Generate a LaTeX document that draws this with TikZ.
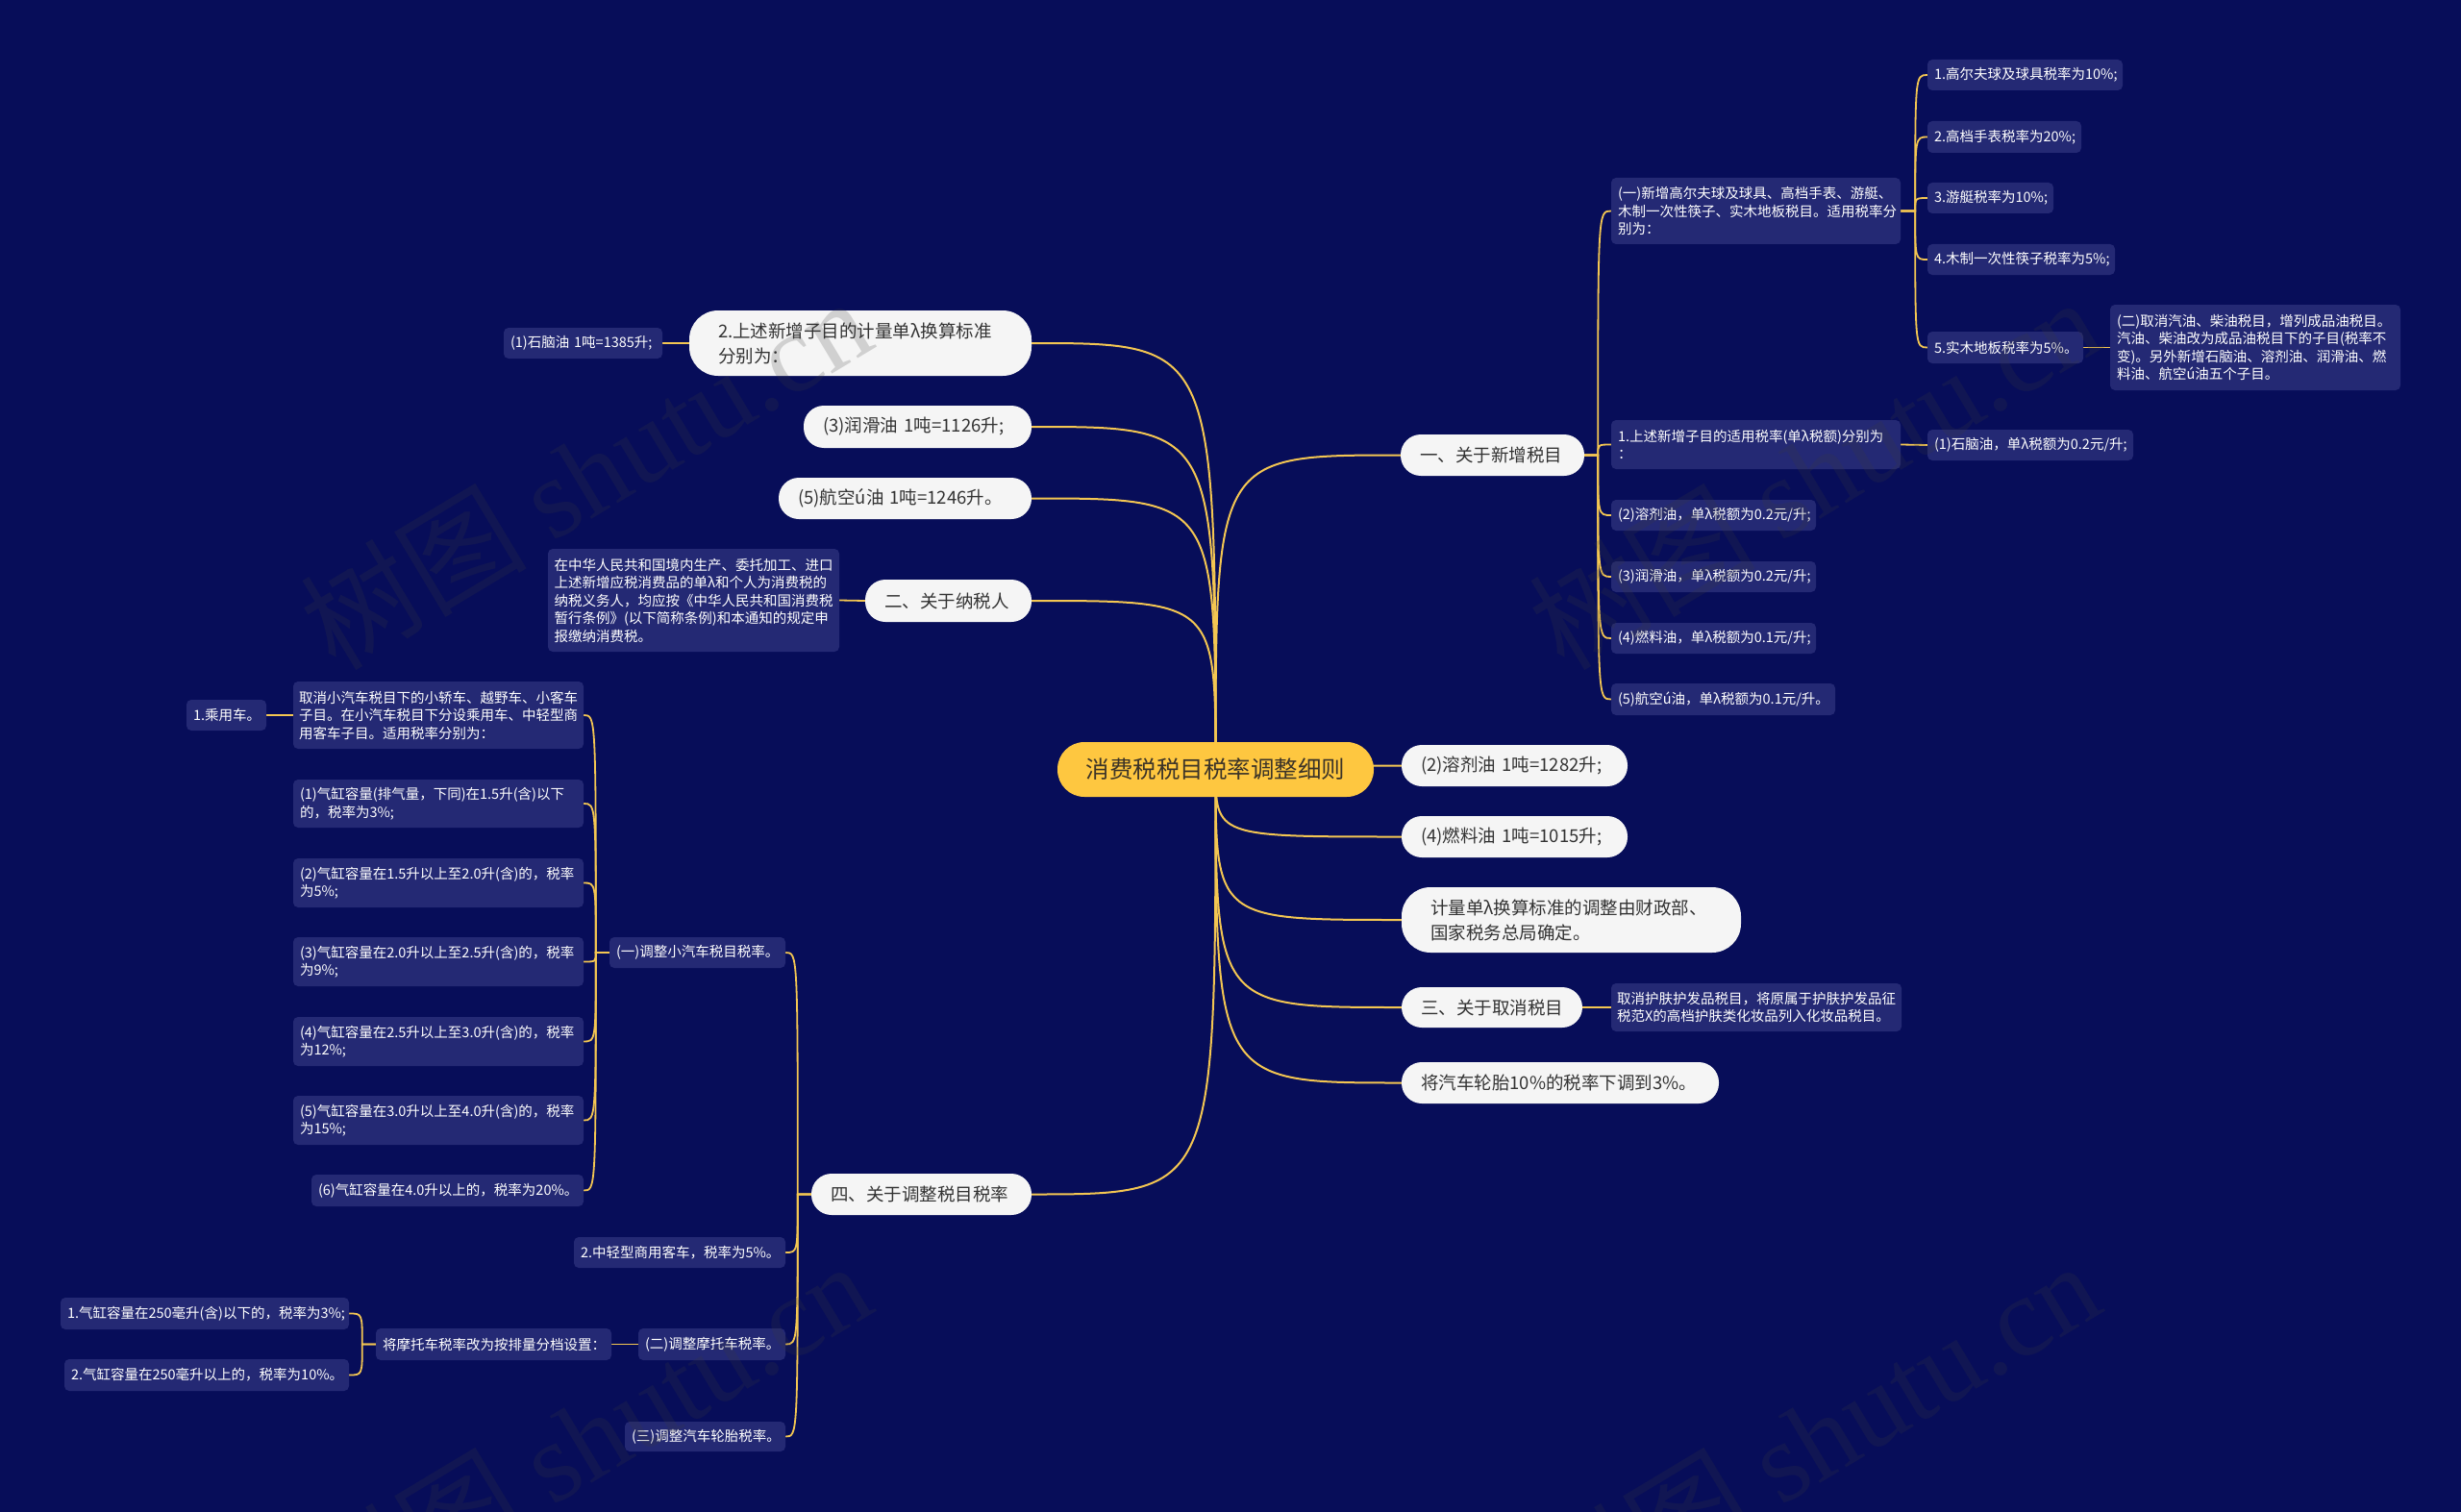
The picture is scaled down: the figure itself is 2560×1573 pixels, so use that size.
\documentclass[tikz,border=0pt]{standalone}
\usepackage{fontspec}
\setmainfont{Noto Sans CJK SC}
\newfontfamily\wmlatin{Liberation Serif}
\definecolor{bgc}{RGB}{7,13,89}
\definecolor{boxc}{RGB}{36,41,116}
\definecolor{pillc}{RGB}{245,245,245}
\definecolor{pilltxt}{RGB}{51,51,51}
\definecolor{rootc}{RGB}{254,199,64}
\definecolor{roottxt}{RGB}{60,52,40}
\definecolor{linec}{RGB}{243,198,82}
\definecolor{wmc}{RGB}{60,60,60}
\pgfdeclarelayer{back}
\pgfdeclarelayer{bg}
\pgfsetlayers{back,bg,main}
\begin{document}
\begin{tikzpicture}[x=1pt,y=-1pt,
  pill/.style={fill=pillc, text=pilltxt, rounded corners=21pt, font=\fontsize{18.5}{26}\selectfont, inner xsep=20pt, inner ysep=2pt, align=left},
  pilltwo/.style={pill, rounded corners=30pt, inner xsep=30pt},
  sb/.style={fill=boxc, text=white, rounded corners=5pt, font=\fontsize{14.5}{18.5}\selectfont, inner xsep=7pt, inner ysep=2pt, align=left},
  rootnode/.style={fill=rootc, text=roottxt, rounded corners=28pt, font=\fontsize{24.5}{30}\selectfont, inner sep=2pt, align=center},
  link/.style={draw=linec, line width=2pt},
  sublink/.style={draw=linec, line width=1.8pt},
  wm/.style={text=wmc, text opacity=0.2, inner sep=0pt, font=\fontsize{118}{118}\selectfont}
]
\useasboundingbox (0,0) rectangle (2560,1573);
\begin{pgfonlayer}{back}
\fill[bgc] (0,0) rectangle (2560,1573);
\end{pgfonlayer}

% root
\node[rootnode, minimum width=329pt, minimum height=57pt] (c) at (1264.5,800.5) {消费税税目税率调整细则};

% right level 1
\node[pill, text width=151pt, minimum height=43pt] (r1) at (1552.5,473.5) {一、关于新增税目};
\node[pill, text width=195pt, minimum height=43pt] (r2) at (1575.5,796.5) {(2)溶剂油~1吨=1282升;};
\node[pill, text width=195pt, minimum height=43pt] (r3) at (1575.5,870.5) {(4)燃料油~1吨=1015升;};
\node[pilltwo, text width=293pt, minimum height=68pt] (r4) at (1634.5,957) {计量单λ换算标准的调整由财政部、\\国家税务总局确定。};
\node[pill, text width=148pt, minimum height=42pt] (r5) at (1552,1048) {三、关于取消税目};
\node[pill, text width=290pt, minimum height=43pt] (r6) at (1623,1126.5) {将汽车轮胎10\%的税率下调到3\%。};

% left level 1
\node[pilltwo, text width=296pt, minimum height=68pt] (l1) at (895,357) {2.上述新增子目的计量单λ换算标准\\分别为：};
\node[pill, text width=197pt, minimum height=44pt] (l2) at (954.5,444) {(3)润滑油~1吨=1126升;};
\node[pill, text width=223pt, minimum height=43pt] (l3) at (941.5,518.5) {(5)航空ú油~1吨=1246升。};
\node[pill, text width=133pt, minimum height=44pt] (l4) at (986.5,625) {二、关于纳税人};
\node[pill, text width=189pt, minimum height=43pt] (l5) at (958.5,1242.5) {四、关于调整税目税率};

% right level 2 (under 一)
\node[sb, text width=287pt, minimum height=69pt] (a) at (1826.5,219.5) {(一)新增高尔夫球及球具、高档手表、游艇、\\木制一次性筷子、实木地板税目。适用税率分\\别为：};
\node[sb, text width=287pt, minimum height=51pt] (b) at (1826.5,462.5) {1.上述新增子目的适用税率(单λ税额)分别为\\：};
\node[sb, text width=199pt, minimum height=32pt] (c2) at (1782.5,536) {(2)溶剂油，单λ税额为0.2元/升;};
\node[sb, text width=199pt, minimum height=32pt] (c3) at (1782.5,600) {(3)润滑油，单λ税额为0.2元/升;};
\node[sb, text width=199pt, minimum height=32pt] (c4) at (1782.5,664) {(4)燃料油，单λ税额为0.1元/升;};
\node[sb, text width=219pt, minimum height=33pt] (c5) at (1792.5,727.5) {(5)航空ú油，单λ税额为0.1元/升。};

% level 3
\node[sb, text width=189pt, minimum height=32pt] (a1) at (2106.5,78) {1.高尔夫球及球具税率为10\%;};
\node[sb, text width=146pt, minimum height=33pt] (a2) at (2085,142.5) {2.高档手表税率为20\%;};
\node[sb, text width=117pt, minimum height=32pt] (a3) at (2070.5,206) {3.游艇税率为10\%;};
\node[sb, text width=181pt, minimum height=32pt] (a4) at (2102.5,270) {4.木制一次性筷子税率为5\%;};
\node[sb, text width=148pt, minimum height=33pt] (a5) at (2086,361.5) {5.实木地板税率为5\%。};
\node[sb, text width=288pt, minimum height=89pt] (a51) at (2346,361.5) {(二)取消汽油、柴油税目，增列成品油税目。\\汽油、柴油改为成品油税目下的子目(税率不\\变)。另外新增石脑油、溶剂油、润滑油、燃\\料油、航空ú油五个子目。};
\node[sb, text width=200pt, minimum height=32pt] (b1) at (2112,463) {(1)石脑油，单λ税额为0.2元/升;};
\node[sb, inner xsep=6pt, text width=290pt, minimum height=50pt] (r5d) at (1827,1048) {取消护肤护发品税目，将原属于护肤护发品征\\税范X的高档护肤类化妆品列入化妆品税目。};

% left level 2
\node[sb, text width=151pt, minimum height=32pt] (l1d) at (606.5,357) {(1)石脑油~1吨=1385升;};
\node[sb, inner xsep=6.5pt, text width=290pt, minimum height=107pt] (l4d) at (721.5,624.5) {在中华人民共和国境内生产、委托加工、进口\\上述新增应税消费品的单λ和个人为消费税的\\纳税义务人，均应按《中华人民共和国消费税\\暂行条例》(以下简称条例)和本通知的规定申\\报缴纳消费税。};
\node[sb, text width=169pt, minimum height=32pt] (f1) at (725.5,991) {(一)调整小汽车税目税率。};
\node[sb, text width=206pt, minimum height=32pt] (f2) at (707,1303) {2.中轻型商用客车，税率为5\%。};
\node[sb, text width=139pt, minimum height=33pt] (f3) at (740.5,1398.5) {(二)调整摩托车税率。};
\node[sb, text width=153pt, minimum height=31pt] (f4) at (733.5,1494.5) {(三)调整汽车轮胎税率。};

\node[sb, inner xsep=6pt, text width=290pt, minimum height=70pt] (g0) at (456,744) {取消小汽车税目下的小轿车、越野车、小客车\\子目。在小汽车税目下分设乘用车、中轻型商\\用客车子目。适用税率分别为：};
\node[sb, text width=288pt, minimum height=50pt] (g1) at (456,836) {(1)气缸容量(排气量，下同)在1.5升(含)以下\\的，税率为3\%;};
\node[sb, text width=288pt, minimum height=51pt] (g2) at (456,918.5) {(2)气缸容量在1.5升以上至2.0升(含)的，税率\\为5\%;};
\node[sb, text width=288pt, minimum height=51pt] (g3) at (456,1000.5) {(3)气缸容量在2.0升以上至2.5升(含)的，税率\\为9\%;};
\node[sb, text width=288pt, minimum height=51pt] (g4) at (456,1083.5) {(4)气缸容量在2.5升以上至3.0升(含)的，税率\\为12\%;};
\node[sb, text width=288pt, minimum height=51pt] (g5) at (456,1165.5) {(5)气缸容量在3.0升以上至4.0升(含)的，税率\\为15\%;};
\node[sb, text width=269pt, minimum height=33pt] (g6) at (465.5,1238.5) {(6)气缸容量在4.0升以上的，税率为20\%。};
\node[sb, text width=69pt, minimum height=32pt] (g01) at (235.5,744) {1.乘用车。};

\node[sb, text width=231pt, minimum height=33pt] (h0) at (513.5,1398.5) {将摩托车税率改为按排量分档设置：};
\node[sb, text width=286pt, minimum height=33pt] (h1) at (213,1366.5) {1.气缸容量在250毫升(含)以下的，税率为3\%;};
\node[sb, text width=282pt, minimum height=33pt] (h2) at (215,1430.5) {2.气缸容量在250毫升以上的，税率为10\%。};

% spine points
\path (r1.east) ++(14,0) coordinate (s1);
\path (a.east) ++(15,0) coordinate (sa);
\path (l5.west) ++(-14,0) coordinate (s5);
\path (f1.west) ++(-14,0) coordinate (sf);
\path (h0.west) ++(-14,0) coordinate (sh);

\begin{pgfonlayer}{bg}
\foreach \n in {r1,r2,r3,r4,r5,r6}
  \draw[link] (c.center) .. controls (c.center |- \n.west) .. (\n.west);
\foreach \n in {l1,l2,l3,l4,l5}
  \draw[link] (c.center) .. controls (c.center |- \n.east) .. (\n.east);
\foreach \n in {a,b,c2,c3,c4,c5}
  \draw[sublink] (r1.east) -- (s1) .. controls (s1 |- \n.west) .. (\n.west);
\foreach \n in {a1,a2,a3,a4,a5}
  \draw[sublink] (a.east) -- (sa) .. controls (sa |- \n.west) .. (\n.west);
\foreach \n in {f1,f2,f3,f4}
  \draw[sublink] (l5.west) -- (s5) .. controls (s5 |- \n.east) .. (\n.east);
\foreach \n in {g0,g1,g2,g3,g4,g5,g6}
  \draw[sublink] (f1.west) -- (sf) .. controls (sf |- \n.east) .. (\n.east);
\foreach \n in {h1,h2}
  \draw[sublink] (h0.west) -- (sh) .. controls (sh |- \n.east) .. (\n.east);
\draw[sublink] (a5.east) -- (a51.west);
\draw[sublink] (b.east) -- (b1.west);
\draw[sublink] (r5.east) -- (r5d.west);
\draw[sublink] (l1.west) -- (l1d.east);
\draw[sublink] (l4.west) -- (l4d.east);
\draw[sublink] (g0.west) -- (g01.east);
\draw[sublink] (f3.west) -- (h0.east);
\end{pgfonlayer}

% watermarks
\begin{scope}
\clip (0,0) rectangle (2560,1573);
\foreach \px/\py/\i in {349/700/1, 1627/700/2, 349/1703/3, 1627/1703/4}
  \node[wm, anchor=base west, rotate=31] (wm\i) at (\px,\py) {树图 {\wmlatin shutu.cn}};
\end{scope}
\end{tikzpicture}
\end{document}
